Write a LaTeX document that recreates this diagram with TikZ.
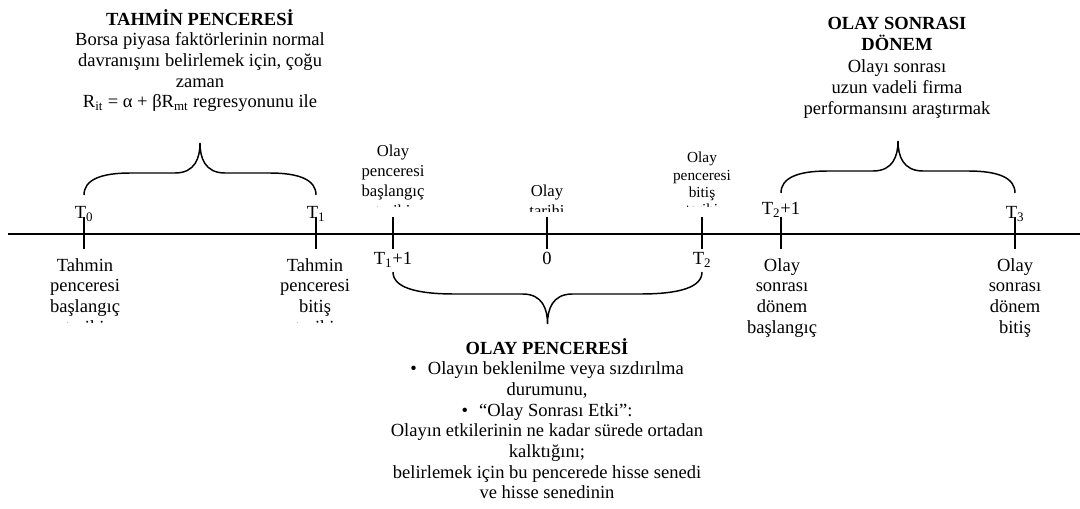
\documentclass[tikz,border=0pt]{standalone}
\usepackage{fontspec}
\setmainfont{Liberation Serif}

% kume parantezi: sol x, sag x, uc y, yon (-1 yukari, 1 asagi)
\newcommand{\kume}[4]{%
  \pgfmathsetmacro{\kC}{(#1+#2)/2}
  \pgfmathsetmacro{\kW}{#2-#1}
  \pgfmathsetmacro{\kA}{#1+0.07*\kW}
  \pgfmathsetmacro{\kB}{#1+0.2*\kW}
  \pgfmathsetmacro{\kD}{\kC-25}
  \pgfmathsetmacro{\kE}{\kC-5}
  \pgfmathsetmacro{\kF}{\kC+5}
  \pgfmathsetmacro{\kG}{\kC+25}
  \pgfmathsetmacro{\kH}{#2-0.2*\kW}
  \pgfmathsetmacro{\kI}{#2-0.07*\kW}
  \pgfmathsetmacro{\yV}{#3+#4*15}
  \pgfmathsetmacro{\yH}{#3+#4*22}
  \pgfmathsetmacro{\yM}{#3+#4*37}
  \pgfmathsetmacro{\yT}{#3+#4*52}
  \draw[kumeci] (#1,#3) .. controls (#1,\yV) and (\kA,\yH) .. (\kB,\yH)
    -- (\kD,\yH) .. controls (\kE,\yH) and (\kC,\yM) .. (\kC,\yT)
    .. controls (\kC,\yM) and (\kF,\yH) .. (\kG,\yH)
    -- (\kH,\yH) .. controls (\kI,\yH) and (#2,\yV) .. (#2,#3);
}

\begin{document}
\begin{tikzpicture}[
        x=0.75pt, y=-0.75pt,
        metin/.style={
            align=center,
            inner sep=0pt,
            font=\fontsize{13.9}{15.5}\selectfont
        },
        orta/.style={
            align=center,
            inner sep=0pt,
            font=\fontsize{12.5}{15}\selectfont
        },
        kucuk/.style={
            align=center,
            inner sep=0pt,
            font=\fontsize{11.5}{13}\selectfont
        },
        eksen/.style={line width=1.5pt},
        centik/.style={line width=1.5pt},
        kumeci/.style={line width=1.1pt}
    ]
    \useasboundingbox (0,0) rectangle (1080,509);

    % Zaman ekseni
    \coordinate (bas) at (8,234);
    \coordinate (son) at (1080,234);
    \draw[eksen] (bas) -- (son);
    \foreach \x in {84,316,393,547,702,781,1015}
        \draw[centik] (\x,217) -- (\x,249);

    % Eksen etiketleri
    \node[metin, anchor=base] (t0)  at (84,219)  {T\textsubscript{0}};
    \node[metin, anchor=base] (t1)  at (316,219) {T\textsubscript{1}};
    \node[metin, anchor=base] (t2b) at (781,215) {T\textsubscript{2}+1};
    \node[metin, anchor=base] (t3)  at (1015,219) {T\textsubscript{3}};
    \node[metin, anchor=base] (t1b) at (393,265) {T\textsubscript{1}+1};
    \node[metin, anchor=base] (sif) at (547,265) {0};
    \node[metin, anchor=base] (t2)  at (702,265) {T\textsubscript{2}};

    % Ust etiketler (kirpilmis)
    \begin{scope}
        \clip (340,140) -- (760,140) -- (760,207) -- (600,207)
            -- (600,212) -- (500,212) -- (500,207) -- (340,207) -- cycle;
        \node[orta, anchor=north] (opbas) at (393,145) {Olay\\penceresi\\başlangıç\\tarihi};
        \node[orta, anchor=north] (otar)  at (547,185) {Olay\\tarihi};
        \node[kucuk, anchor=north] (opbit) at (702,152) {Olay\\penceresi\\bitiş\\tarihi};
    \end{scope}

    % Alt etiketler
    \begin{scope}
        \clip (0,250) rectangle (370,322);
        \node[metin, anchor=north] (tpbas) at (85,258)  {Tahmin\\penceresi\\başlangıç\\tarihi};
        \node[metin, anchor=north] (tpbit) at (315,258) {Tahmin\\penceresi\\bitiş\\tarihi};
    \end{scope}
    \node[metin, anchor=north] (osbas) at (782,258)  {Olay\\sonrası\\dönem\\başlangıç};
    \node[metin, anchor=north] (osbit) at (1015,258) {Olay\\sonrası\\dönem\\bitiş};

    % Pencere aciklamalari
    \node[metin, anchor=north] (tahmin) at (200,9) {\textbf{TAHMİN PENCERESİ}\\
        Borsa piyasa faktörlerinin normal\\
        davranışını belirlemek için, çoğu\\
        zaman\\
        R\textsubscript{it} = α + βR\textsubscript{mt} regresyonunu ile};
    \node[metin, anchor=north, font=\fontsize{13.9}{16}\selectfont] (sonrasi) at (897,17) {\textbf{OLAY SONRASI}\\
        \textbf{DÖNEM}\\
        Olayı sonrası\\
        uzun vadeli firma\\
        performansını araştırmak};
    \node[metin, anchor=north] (olay) at (547,338) {\textbf{OLAY PENCERESİ}\\
        •\hspace{0.6em}Olayın beklenilme veya sızdırılma\\
        durumunu,\\
        •\hspace{0.6em}“Olay Sonrası Etki”:\\
        Olayın etkilerinin ne kadar sürede ortadan\\
        kalktığını;\\
        belirlemek için bu pencerede hisse senedi\\
        ve hisse senedinin};

    % Parantezler
    \kume{84}{316}{195}{-1}
    \kume{393}{702}{272}{1}
    \kume{781}{1015}{193}{-1}

\end{tikzpicture}
\end{document}
